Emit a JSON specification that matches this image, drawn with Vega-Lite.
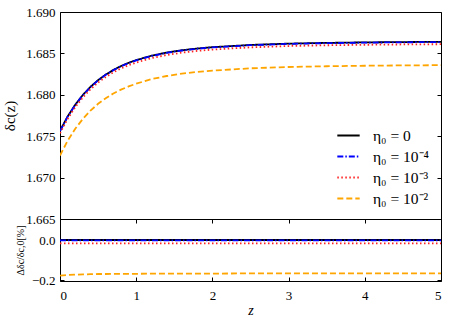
{
  "$schema": "https://vega.github.io/schema/vega-lite/v6.json",
  "background": "white",
  "padding": {"left": 2, "top": 5, "right": 6, "bottom": 3},
  "bounds": "flush",
  "config": {
    "font": "Liberation Serif",
    "view": {"stroke": "black", "strokeWidth": 1},
    "axis": {"grid": false, "domain": false, "tickColor": "black", "tickSize": -4, "tickWidth": 1, "labelPadding": 9, "labelFont": "Liberation Serif", "labelFontSize": 13, "labelColor": "black", "titleFont": "Liberation Serif", "titleColor": "black", "titleFontWeight": "normal"},
    "legend": {"labelFont": "Liberation Serif"}
  },
  "datasets": {
    "d": [
      {"z": 0, "eta": "η₀ = 0", "d": 1.67565, "r": 0},
      {"z": 0.1, "eta": "η₀ = 0", "d": 1.67738, "r": 0},
      {"z": 0.2, "eta": "η₀ = 0", "d": 1.67880, "r": 0},
      {"z": 0.3, "eta": "η₀ = 0", "d": 1.67998, "r": 0},
      {"z": 0.4, "eta": "η₀ = 0", "d": 1.68096, "r": 0},
      {"z": 0.5, "eta": "η₀ = 0", "d": 1.68177, "r": 0},
      {"z": 0.6, "eta": "η₀ = 0", "d": 1.68244, "r": 0},
      {"z": 0.7, "eta": "η₀ = 0", "d": 1.68300, "r": 0},
      {"z": 0.8, "eta": "η₀ = 0", "d": 1.68347, "r": 0},
      {"z": 0.9, "eta": "η₀ = 0", "d": 1.68386, "r": 0},
      {"z": 1.0, "eta": "η₀ = 0", "d": 1.68419, "r": 0},
      {"z": 1.2, "eta": "η₀ = 0", "d": 1.68472, "r": 0},
      {"z": 1.4, "eta": "η₀ = 0", "d": 1.68510, "r": 0},
      {"z": 1.6, "eta": "η₀ = 0", "d": 1.68538, "r": 0},
      {"z": 1.8, "eta": "η₀ = 0", "d": 1.68559, "r": 0},
      {"z": 2.0, "eta": "η₀ = 0", "d": 1.68575, "r": 0},
      {"z": 2.5, "eta": "η₀ = 0", "d": 1.68602, "r": 0},
      {"z": 3.0, "eta": "η₀ = 0", "d": 1.68618, "r": 0},
      {"z": 3.5, "eta": "η₀ = 0", "d": 1.68627, "r": 0},
      {"z": 4.0, "eta": "η₀ = 0", "d": 1.68633, "r": 0},
      {"z": 4.5, "eta": "η₀ = 0", "d": 1.68637, "r": 0},
      {"z": 5.0, "eta": "η₀ = 0", "d": 1.68640, "r": 0},
      {"z": 0, "eta": "η₀ = 10⁻⁴", "d": 1.67562, "r": -0.002},
      {"z": 0.1, "eta": "η₀ = 10⁻⁴", "d": 1.67735, "r": -0.002},
      {"z": 0.2, "eta": "η₀ = 10⁻⁴", "d": 1.67877, "r": -0.002},
      {"z": 0.3, "eta": "η₀ = 10⁻⁴", "d": 1.67995, "r": -0.002},
      {"z": 0.4, "eta": "η₀ = 10⁻⁴", "d": 1.68093, "r": -0.002},
      {"z": 0.5, "eta": "η₀ = 10⁻⁴", "d": 1.68174, "r": -0.002},
      {"z": 0.6, "eta": "η₀ = 10⁻⁴", "d": 1.68241, "r": -0.002},
      {"z": 0.7, "eta": "η₀ = 10⁻⁴", "d": 1.68297, "r": -0.002},
      {"z": 0.8, "eta": "η₀ = 10⁻⁴", "d": 1.68344, "r": -0.002},
      {"z": 0.9, "eta": "η₀ = 10⁻⁴", "d": 1.68383, "r": -0.002},
      {"z": 1.0, "eta": "η₀ = 10⁻⁴", "d": 1.68416, "r": -0.002},
      {"z": 1.2, "eta": "η₀ = 10⁻⁴", "d": 1.68469, "r": -0.002},
      {"z": 1.4, "eta": "η₀ = 10⁻⁴", "d": 1.68507, "r": -0.002},
      {"z": 1.6, "eta": "η₀ = 10⁻⁴", "d": 1.68535, "r": -0.002},
      {"z": 1.8, "eta": "η₀ = 10⁻⁴", "d": 1.68556, "r": -0.002},
      {"z": 2.0, "eta": "η₀ = 10⁻⁴", "d": 1.68572, "r": -0.002},
      {"z": 2.5, "eta": "η₀ = 10⁻⁴", "d": 1.68599, "r": -0.002},
      {"z": 3.0, "eta": "η₀ = 10⁻⁴", "d": 1.68615, "r": -0.002},
      {"z": 3.5, "eta": "η₀ = 10⁻⁴", "d": 1.68624, "r": -0.002},
      {"z": 4.0, "eta": "η₀ = 10⁻⁴", "d": 1.68630, "r": -0.002},
      {"z": 4.5, "eta": "η₀ = 10⁻⁴", "d": 1.68634, "r": -0.002},
      {"z": 5.0, "eta": "η₀ = 10⁻⁴", "d": 1.68637, "r": -0.002},
      {"z": 0, "eta": "η₀ = 10⁻³", "d": 1.67536, "r": -0.017},
      {"z": 0.1, "eta": "η₀ = 10⁻³", "d": 1.67709, "r": -0.017},
      {"z": 0.2, "eta": "η₀ = 10⁻³", "d": 1.67851, "r": -0.017},
      {"z": 0.3, "eta": "η₀ = 10⁻³", "d": 1.67969, "r": -0.017},
      {"z": 0.4, "eta": "η₀ = 10⁻³", "d": 1.68067, "r": -0.017},
      {"z": 0.5, "eta": "η₀ = 10⁻³", "d": 1.68148, "r": -0.017},
      {"z": 0.6, "eta": "η₀ = 10⁻³", "d": 1.68215, "r": -0.017},
      {"z": 0.7, "eta": "η₀ = 10⁻³", "d": 1.68271, "r": -0.017},
      {"z": 0.8, "eta": "η₀ = 10⁻³", "d": 1.68318, "r": -0.017},
      {"z": 0.9, "eta": "η₀ = 10⁻³", "d": 1.68357, "r": -0.017},
      {"z": 1.0, "eta": "η₀ = 10⁻³", "d": 1.68390, "r": -0.017},
      {"z": 1.2, "eta": "η₀ = 10⁻³", "d": 1.68443, "r": -0.017},
      {"z": 1.4, "eta": "η₀ = 10⁻³", "d": 1.68481, "r": -0.017},
      {"z": 1.6, "eta": "η₀ = 10⁻³", "d": 1.68509, "r": -0.017},
      {"z": 1.8, "eta": "η₀ = 10⁻³", "d": 1.68530, "r": -0.017},
      {"z": 2.0, "eta": "η₀ = 10⁻³", "d": 1.68546, "r": -0.017},
      {"z": 2.5, "eta": "η₀ = 10⁻³", "d": 1.68573, "r": -0.017},
      {"z": 3.0, "eta": "η₀ = 10⁻³", "d": 1.68589, "r": -0.017},
      {"z": 3.5, "eta": "η₀ = 10⁻³", "d": 1.68598, "r": -0.017},
      {"z": 4.0, "eta": "η₀ = 10⁻³", "d": 1.68604, "r": -0.017},
      {"z": 4.5, "eta": "η₀ = 10⁻³", "d": 1.68608, "r": -0.017},
      {"z": 5.0, "eta": "η₀ = 10⁻³", "d": 1.68611, "r": -0.017},
      {"z": 0, "eta": "η₀ = 10⁻²", "d": 1.67267, "r": -0.178},
      {"z": 0.1, "eta": "η₀ = 10⁻²", "d": 1.67444, "r": -0.175},
      {"z": 0.2, "eta": "η₀ = 10⁻²", "d": 1.67590, "r": -0.173},
      {"z": 0.3, "eta": "η₀ = 10⁻²", "d": 1.67709, "r": -0.172},
      {"z": 0.4, "eta": "η₀ = 10⁻²", "d": 1.67809, "r": -0.171},
      {"z": 0.5, "eta": "η₀ = 10⁻²", "d": 1.67891, "r": -0.170},
      {"z": 0.6, "eta": "η₀ = 10⁻²", "d": 1.67958, "r": -0.170},
      {"z": 0.7, "eta": "η₀ = 10⁻²", "d": 1.68016, "r": -0.169},
      {"z": 0.8, "eta": "η₀ = 10⁻²", "d": 1.68062, "r": -0.169},
      {"z": 0.9, "eta": "η₀ = 10⁻²", "d": 1.68101, "r": -0.169},
      {"z": 1.0, "eta": "η₀ = 10⁻²", "d": 1.68134, "r": -0.169},
      {"z": 1.2, "eta": "η₀ = 10⁻²", "d": 1.68189, "r": -0.168},
      {"z": 1.4, "eta": "η₀ = 10⁻²", "d": 1.68227, "r": -0.168},
      {"z": 1.6, "eta": "η₀ = 10⁻²", "d": 1.68256, "r": -0.168},
      {"z": 1.8, "eta": "η₀ = 10⁻²", "d": 1.68276, "r": -0.168},
      {"z": 2.0, "eta": "η₀ = 10⁻²", "d": 1.68292, "r": -0.168},
      {"z": 2.5, "eta": "η₀ = 10⁻²", "d": 1.68320, "r": -0.167},
      {"z": 3.0, "eta": "η₀ = 10⁻²", "d": 1.68336, "r": -0.167},
      {"z": 3.5, "eta": "η₀ = 10⁻²", "d": 1.68345, "r": -0.167},
      {"z": 4.0, "eta": "η₀ = 10⁻²", "d": 1.68351, "r": -0.167},
      {"z": 4.5, "eta": "η₀ = 10⁻²", "d": 1.68355, "r": -0.167},
      {"z": 5.0, "eta": "η₀ = 10⁻²", "d": 1.68358, "r": -0.167}
    ]
  },
  "spacing": 0,
  "resolve": {"legend": {"color": "independent", "strokeDash": "independent"}},
  "vconcat": [
    {
      "width": 381,
      "height": 207,
      "data": {"name": "d"},
      "layer": [
        {
          "mark": {"type": "line", "strokeWidth": 1.8, "clip": true},
          "encoding": {
            "x": {"field": "z", "type": "quantitative", "scale": {"domain": [0, 5]}, "axis": null},
            "y": {"field": "d", "type": "quantitative", "scale": {"domain": [1.665, 1.69], "zero": false, "nice": false},
                  "axis": {"orient": "left", "values": [1.665, 1.67, 1.675, 1.68, 1.685, 1.69], "format": ".3f", "title": "δc(z)", "titleFontSize": 15, "titlePadding": 8}},
            "color": {"field": "eta", "type": "nominal",
                      "scale": {"domain": ["η₀ = 0", "η₀ = 10⁻⁴", "η₀ = 10⁻³", "η₀ = 10⁻²"], "range": ["#000000", "#0000ff", "#ff2020", "#ffa500"]},
                      "legend": {"orient": "bottom-right", "title": null, "symbolType": "stroke", "symbolSize": 500, "symbolStrokeWidth": 2, "labelFontSize": 15.5, "labelColor": "black", "rowPadding": 0, "offset": 12, "labelOffset": 12}},
            "strokeDash": {"field": "eta", "type": "nominal",
                      "scale": {"domain": ["η₀ = 0", "η₀ = 10⁻⁴", "η₀ = 10⁻³", "η₀ = 10⁻²"], "range": [[1, 0], [6, 2, 1.5, 2], [1.5, 2.5], [6, 3]]},
                      "legend": {"orient": "bottom-right", "title": null, "symbolType": "stroke", "symbolSize": 500, "symbolStrokeWidth": 2, "labelFontSize": 15.5, "labelColor": "black", "rowPadding": 0, "offset": 12, "labelOffset": 12}}
          }
        },
        {
          "mark": {"type": "point", "opacity": 0},
          "encoding": {
            "y": {"field": "d", "type": "quantitative", "axis": {"orient": "right", "values": [1.665, 1.67, 1.675, 1.68, 1.685, 1.69], "labels": false, "title": null}}
          }
        }
      ]
    },
    {
      "width": 381,
      "height": 62,
      "data": {"name": "d"},
      "layer": [
        {
          "mark": {"type": "line", "strokeWidth": 1.8, "clip": true},
          "encoding": {
            "x": {"field": "z", "type": "quantitative", "scale": {"domain": [0, 5]},
                  "axis": {"orient": "bottom", "values": [0, 1, 2, 3, 4, 5], "labelPadding": 12, "title": "z", "titleFontStyle": "italic", "titleFontSize": 14, "titlePadding": 1}},
            "y": {"field": "r", "type": "quantitative", "scale": {"domain": [-0.205, 0.105], "zero": false, "nice": false},
                  "axis": {"orient": "left", "values": [-0.2, 0], "format": ".1f", "title": "Δδc/δc,0[%]", "titleFontSize": 10, "titlePadding": 6}},
            "color": {"field": "eta", "type": "nominal",
                      "scale": {"domain": ["η₀ = 0", "η₀ = 10⁻⁴", "η₀ = 10⁻³", "η₀ = 10⁻²"], "range": ["#000000", "#0000ff", "#ff2020", "#ffa500"]}, "legend": null},
            "strokeDash": {"field": "eta", "type": "nominal",
                      "scale": {"domain": ["η₀ = 0", "η₀ = 10⁻⁴", "η₀ = 10⁻³", "η₀ = 10⁻²"], "range": [[1, 0], [6, 2, 1.5, 2], [1.5, 2.5], [6, 3]]}, "legend": null}
          }
        },
        {
          "mark": {"type": "point", "opacity": 0},
          "encoding": {
            "x": {"field": "z", "type": "quantitative", "axis": {"orient": "top", "values": [0, 1, 2, 3, 4, 5], "labels": false, "title": null}},
            "y": {"field": "r", "type": "quantitative", "axis": {"orient": "right", "values": [-0.2, 0], "labels": false, "title": null}}
          }
        }
      ]
    }
  ]
}
